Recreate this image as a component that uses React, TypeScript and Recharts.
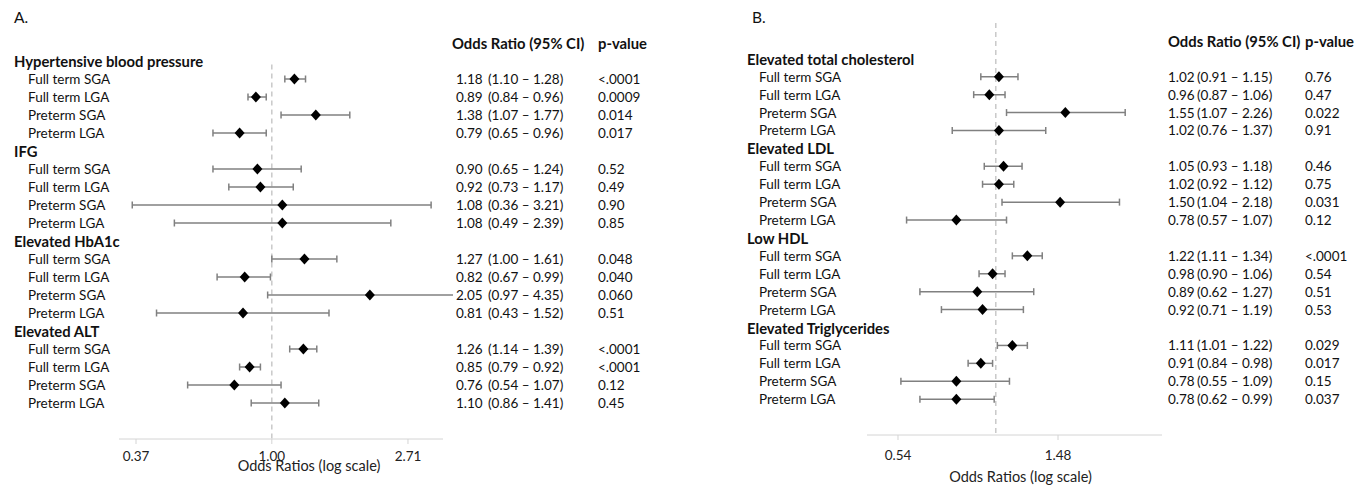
import React from 'react';
import { ScatterChart, Scatter, XAxis, YAxis, ErrorBar, ReferenceLine, Label } from 'recharts';

const FONT = 'Lato, "Open Sans", sans-serif';

const subgroups = ['Full term SGA', 'Full term LGA', 'Preterm SGA', 'Preterm LGA'];

const groupsA = ['Hypertensive blood pressure', 'IFG', 'Elevated HbA1c', 'Elevated ALT'];
const orA = [1.18, 0.89, 1.38, 0.79, 0.9, 0.92, 1.08, 1.08, 1.27, 0.82, 2.05, 0.81, 1.26, 0.85, 0.76, 1.1];
const loA = [1.1, 0.84, 1.07, 0.65, 0.65, 0.73, 0.36, 0.49, 1.0, 0.67, 0.97, 0.43, 1.14, 0.79, 0.54, 0.86];
const hiA = [1.28, 0.96, 1.77, 0.96, 1.24, 1.17, 3.21, 2.39, 1.61, 0.99, 4.35, 1.52, 1.39, 0.92, 1.07, 1.41];
const pA = ['<.0001', '0.0009', '0.014', '0.017', '0.52', '0.49', '0.90', '0.85', '0.048', '0.040', '0.060', '0.51', '<.0001', '<.0001', '0.12', '0.45'];
const ticksA = [0.37, 1.0, 2.71];

const groupsB = ['Elevated total cholesterol', 'Elevated LDL', 'Low HDL', 'Elevated Triglycerides'];
const orB = [1.02, 0.96, 1.55, 1.02, 1.05, 1.02, 1.5, 0.78, 1.22, 0.98, 0.89, 0.92, 1.11, 0.91, 0.78, 0.78];
const loB = [0.91, 0.87, 1.07, 0.76, 0.93, 0.92, 1.04, 0.57, 1.11, 0.9, 0.62, 0.71, 1.01, 0.84, 0.55, 0.62];
const hiB = [1.15, 1.06, 2.26, 1.37, 1.18, 1.12, 2.18, 1.07, 1.34, 1.06, 1.27, 1.19, 1.22, 0.98, 1.09, 0.99];
const pB = ['0.76', '0.47', '0.022', '0.91', '0.46', '0.75', '0.031', '0.12', '<.0001', '0.54', '0.51', '0.53', '0.029', '0.017', '0.15', '0.037'];
const ticksB = [0.54, 1.48];

type Row = { row: number; label: string; header: boolean; or?: number; lo?: number; hi?: number; p?: string; err?: number[] };

// header row per group, then the four subgroups
function buildRows(groups: string[], or: number[], lo: number[], hi: number[], p: string[]): Row[] {
  const rows: Row[] = [];
  groups.forEach((g, gi) => {
    rows.push({ row: rows.length, label: g, header: true });
    subgroups.forEach((s, si) => {
      const i = gi * 4 + si;
      rows.push({ row: rows.length, label: s, header: false, or: or[i], lo: lo[i], hi: hi[i], p: p[i], err: [or[i] - lo[i], hi[i] - or[i]] });
    });
  });
  return rows;
}

const rowsA = buildRows(groupsA, orA, loA, hiA, pA);
const rowsB = buildRows(groupsB, orB, loB, hiB, pB);
const rowTicks = Array.from({ length: 21 }, (_, i) => i - 1);

const Diamond = (props: any) => {
  const { cx, cy } = props;
  if (cx == null || cy == null) return null;
  return <polygon points={`${cx},${cy - 5.5} ${cx + 5},${cy} ${cx},${cy + 5.5} ${cx - 5},${cy}`} fill="#000" />;
};

type Cols = { head: number; sub: number; orHead: number; or: number; ci: number; p: number; end: number };

const makeTick = (rows: Row[], c: Cols) => (props: any) => {
  const { y, payload } = props;
  const v = payload.value;
  const common = { fontFamily: FONT, fontSize: 13.5, fill: '#111', dominantBaseline: 'central' as const };
  const bold = { ...common, fontSize: 14.8, fontWeight: 'bold' as const };
  if (v === -1) {
    return (
      <g>
        <text x={c.orHead} y={y} {...bold}>Odds Ratio (95% CI)</text>
        <text x={c.p} y={y} {...bold}>p-value</text>
      </g>
    );
  }
  const r = rows[v];
  if (!r) return null;
  if (r.header) {
    return <text x={c.head} y={y} {...bold}>{r.label}</text>;
  }
  return (
    <g>
      <text x={c.sub} y={y} {...common}>{r.label}</text>
      {/* table column sits on a white strip, as in the source figure */}
      <rect x={c.or - 3} y={y - 8} width={c.end - c.or + 3} height={16} fill="#fff" />
      <text x={c.or} y={y} {...common}>{r.or!.toFixed(2)}</text>
      <text x={c.ci} y={y} {...common}>{`(${r.lo!.toFixed(2)} \u2013 ${r.hi!.toFixed(2)})`}</text>
      <text x={c.p} y={y} {...common}>{r.p}</text>
    </g>
  );
};

type PanelProps = {
  rows: Row[];
  width: number;
  left: number;
  right: number;
  top: number;
  plotHeight: number;
  domain: [number, number];
  ticks: number[];
  tickMargin: number;
  titleOffset: number;
  titleDx: number;
  refTop: number;
  cols: Cols;
};

const Panel: React.FC<PanelProps> = (p) => {
  const height = 486;
  const xAxisHeight = height - p.top - p.plotHeight;
  return (
    <ScatterChart width={p.width} height={height} margin={{ top: p.top, right: p.right, bottom: 0, left: 0 }}>
      <XAxis
        type="number"
        dataKey="or"
        scale="log"
        domain={p.domain}
        allowDataOverflow
        ticks={p.ticks}
        tickFormatter={(v: number) => v.toFixed(2)}
        height={xAxisHeight}
        stroke="#d4d4d4"
        tickSize={5}
        tickMargin={p.tickMargin}
        tick={{ fill: '#222', fontSize: 13.5, fontFamily: FONT }}
      >
        <Label value="Odds Ratios (log scale)" position="insideTop" offset={p.titleOffset} dx={p.titleDx} fill="#222" fontSize={14.5} fontFamily={FONT} />
      </XAxis>
      <ReferenceLine
        segment={[{ x: 1, y: p.refTop }, { x: 1, y: 21 }]}
        stroke="#c9c9c9"
        strokeWidth={1.5}
        strokeDasharray="5 4"
      />
      <Scatter data={p.rows.filter((r) => !r.header)} shape={Diamond} isAnimationActive={false}>
        <ErrorBar
          dataKey={(d: any) => (d.payload ? d.payload.err : d.err)}
          direction="x"
          width={3.5}
          stroke="#808080"
          strokeWidth={1.5}
        />
      </Scatter>
      <YAxis
        type="number"
        dataKey="row"
        domain={[-2, 21]}
        reversed
        allowDataOverflow
        ticks={rowTicks}
        interval={0}
        width={p.left}
        axisLine={false}
        tickLine={false}
        tick={makeTick(p.rows, p.cols)}
      />
    </ScatterChart>
  );
};

export default function App() {
  return (
    <div style={{ position: 'absolute', left: 0, top: 0, width: 1369, height: 486, background: '#fff' }}>
      <div style={{ position: 'absolute', left: 14, top: 8, fontFamily: FONT, fontSize: 15.5, color: '#111' }}>A.</div>
      <div style={{ position: 'absolute', left: 752, top: 8, fontFamily: FONT, fontSize: 15.5, color: '#111' }}>B.</div>
      <div style={{ position: 'absolute', left: 0, top: 0 }}>
        <Panel
          rows={rowsA}
          width={690}
          left={119}
          right={247}
          top={25}
          plotHeight={414}
          domain={[0.3267, 3.502]}
          ticks={ticksA}
          tickMargin={7}
          titleOffset={22}
          titleDx={28}
          refTop={0.2}
          cols={{ head: 14, sub: 28, orHead: 452, or: 456, ci: 488, p: 598, end: 680 }}
        />
      </div>
      <div style={{ position: 'absolute', left: 690, top: 0 }}>
        <Panel
          rows={rowsB}
          width={679}
          left={177}
          right={207}
          top={23}
          plotHeight={412}
          domain={[0.4442, 2.85]}
          ticks={ticksB}
          tickMargin={10}
          titleOffset={37}
          titleDx={6}
          refTop={-2}
          cols={{ head: 57, sub: 69, orHead: 478, or: 478, ci: 507, p: 615, end: 679 }}
        />
      </div>
    </div>
  );
}
